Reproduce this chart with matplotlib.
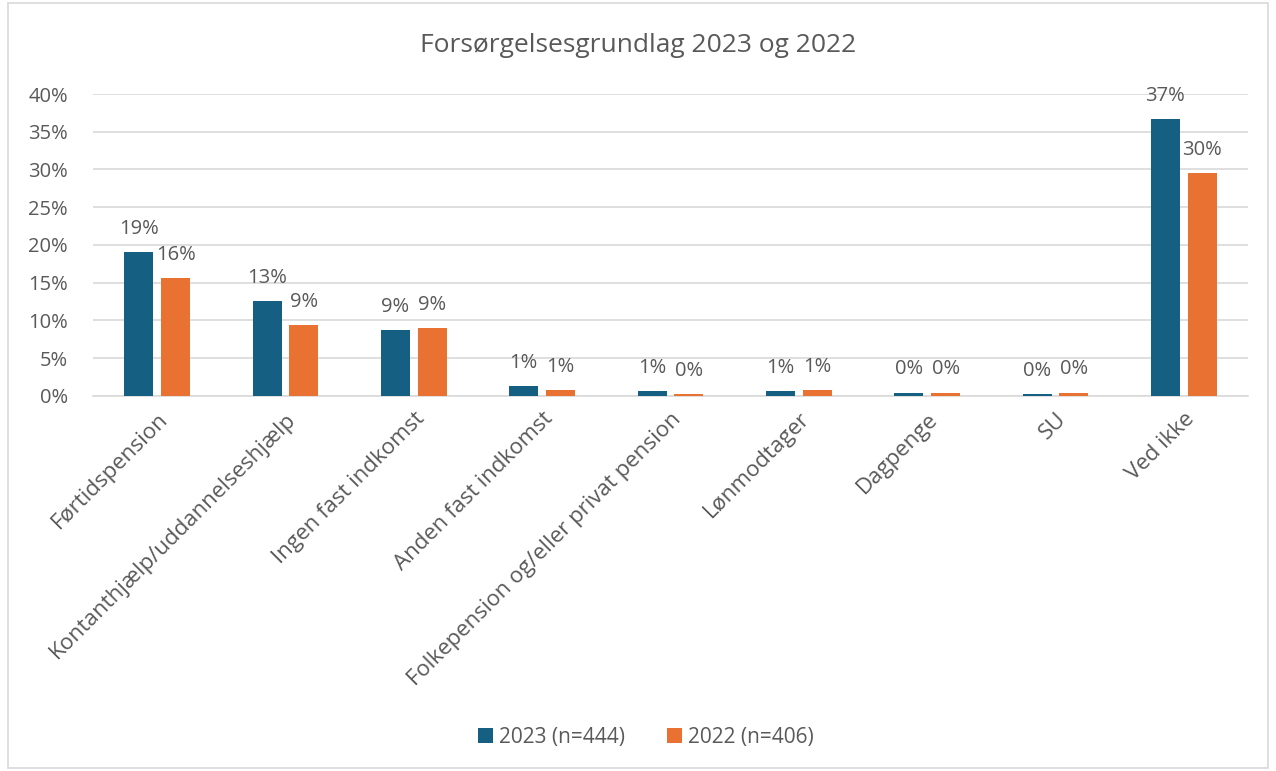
import numpy as np
import matplotlib.pyplot as plt
from matplotlib.patches import Rectangle

# data (percent)
categories = ["Førtidspension", "Kontanthjælp/uddannelseshjælp", "Ingen fast indkomst",
              "Anden fast indkomst", "Folkepension og/eller privat pension", "Lønmodtager",
              "Dagpenge", "SU", "Ved ikke"]
vals_2023 = [19.1, 12.6, 8.7, 1.3, 0.7, 0.7, 0.45, 0.2, 36.7]
vals_2022 = [15.6, 9.4, 9.0, 0.75, 0.25, 0.75, 0.45, 0.45, 29.5]
series_names = ["2023 (n=444)", "2022 (n=406)"]
yticks = [0, 5, 10, 15, 20, 25, 30, 35, 40]

c2023 = "#156082"
c2022 = "#e97132"
txt = "#595959"
fs = 14.5

plt.rcParams['font.family'] = ['Open Sans', 'DejaVu Sans']

fig = plt.figure(figsize=(12.76, 7.71), dpi=100)
ax = fig.add_axes([93 / 1276, 1 - 396 / 771, (1248 - 93) / 1276, (396 - 94) / 771])

x = np.arange(len(categories))
w = 0.226
off = 0.144
b1 = ax.bar(x - off, vals_2023, w, color=c2023, label=series_names[0], zorder=3)
b2 = ax.bar(x + off, vals_2022, w, color=c2022, label=series_names[1], zorder=3)

# data labels above each bar
for bars, vals in [(b1, vals_2023), (b2, vals_2022)]:
    for r, v in zip(bars, vals):
        ax.annotate(f"{round(v)}%", (r.get_x() + r.get_width() / 2, v),
                    xytext=(0, 9.5), textcoords="offset points",
                    ha="center", va="bottom", fontsize=fs, color=txt)

ax.set_xlim(-0.5, len(categories) - 0.5)
ax.set_ylim(0, 40)
ax.set_yticks(yticks)
ax.set_yticklabels([f"{t}%" for t in yticks], fontsize=fs, color=txt)
ax.set_xticks(x)
ax.set_xticklabels(categories, rotation=45, ha="right", rotation_mode="anchor",
                   fontsize=16, color=txt)
ax.tick_params(length=0)
ax.tick_params(axis="y", pad=18)
ax.tick_params(axis="x", pad=9)
ax.grid(axis="y", color="#d9d9d9", linewidth=1.2, zorder=0)
for s in ["top", "right", "left"]:
    ax.spines[s].set_visible(False)
ax.spines["bottom"].set_color("#d9d9d9")
ax.spines["bottom"].set_linewidth(1.2)

fig.text(0.5, 1 - 45 / 771, "Forsørgelsesgrundlag 2023 og 2022", ha="center", va="center",
         fontsize=19, color=txt)

fig.legend(loc="center", bbox_to_anchor=(646 / 1276, 1 - 737 / 771), ncol=2, frameon=False,
           fontsize=15, labelcolor=txt, handlelength=0.7, handleheight=0.7,
           columnspacing=2.0, handletextpad=0.3)

# light grey chart border
fig.patches.append(Rectangle((8 / 1276, 3 / 771), 1 - 16 / 1276, 1 - 6 / 771,
                             transform=fig.transFigure, fill=False,
                             edgecolor="#d9d9d9", linewidth=1.2))

fig.savefig("out.png", dpi=100, facecolor="white")
